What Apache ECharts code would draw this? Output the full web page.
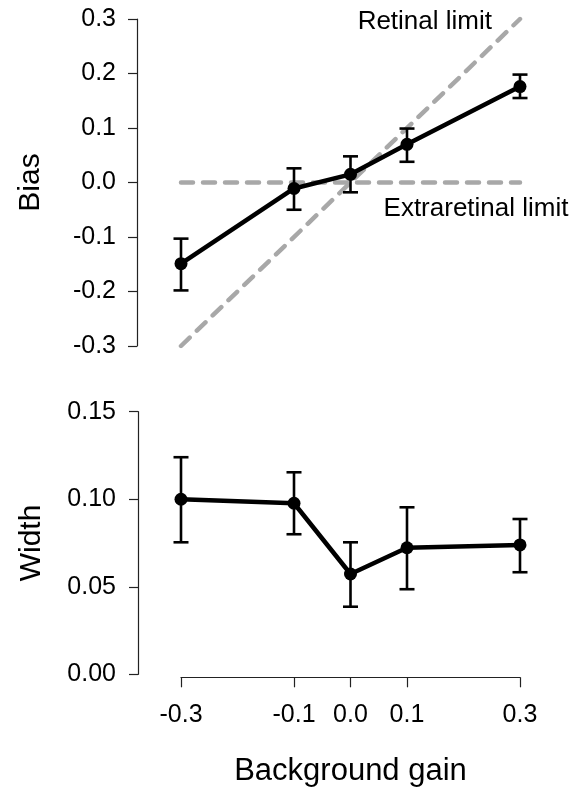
<!DOCTYPE html>
<html>
<head>
<meta charset="utf-8">
<script src="https://cdn.jsdelivr.net/npm/echarts@6/dist/echarts.min.js"></script>
<style>
html,body{margin:0;padding:0;background:#fff;}
#chart{width:576px;height:792px;}
</style>
</head>
<body>
<div id="chart"></div>
<script>
// ---- data ----
var gainValues = [-0.3, -0.1, 0.0, 0.1, 0.3];
var gainTicks = [-0.3, -0.1, 0.0, 0.1, 0.3];
var biasMean = [-0.149, -0.011, 0.015, 0.070, 0.176];
var biasLow  = [-0.198, -0.050, -0.018, 0.038, 0.155];
var biasHigh = [-0.103, 0.026, 0.048, 0.099, 0.198];
var widthMean = [0.100, 0.0977, 0.0573, 0.0723, 0.0739];
var widthLow  = [0.0754, 0.080, 0.0386, 0.0486, 0.0583];
var widthHigh = [0.124, 0.1154, 0.0754, 0.0954, 0.0887];
var retinalLimit = [[-0.3, -0.3], [0.3, 0.3]];
var extraretinalLimit = [[-0.3, 0.0], [0.3, 0.0]];
var biasTicks = [-0.3, -0.2, -0.1, 0.0, 0.1, 0.2, 0.3];
var widthTicks = [0.00, 0.05, 0.10, 0.15];

var FONT = 'Liberation Sans';
var chart = echarts.init(document.getElementById('chart'), null, {renderer: 'canvas'});

function zip(xs, ys) { return xs.map(function (x, i) { return [x, ys[i]]; }); }
function errData(xs, lo, hi) { return xs.map(function (x, i) { return [x, lo[i], hi[i]]; }); }

function errRender(params, api) {
  var x = api.value(0);
  var p1 = api.coord([x, api.value(1)]);
  var p2 = api.coord([x, api.value(2)]);
  var hw = 7.5;
  var st = {stroke: '#000', lineWidth: 2.6};
  return {
    type: 'group',
    children: [
      {type: 'line', shape: {x1: p1[0], y1: p1[1], x2: p2[0], y2: p2[1]}, style: st},
      {type: 'line', shape: {x1: p1[0] - hw, y1: p1[1], x2: p1[0] + hw, y2: p1[1]}, style: st},
      {type: 'line', shape: {x1: p2[0] - hw, y1: p2[1], x2: p2[0] + hw, y2: p2[1]}, style: st}
    ]
  };
}

var axisLineStyle = {color: '#222', width: 1.2};
var dashStyle = {color: '#a8a8a8', width: 4.5, type: [12, 10], cap: 'round'};

var option = {
  backgroundColor: '#fff',
  animation: false,
  textStyle: {fontFamily: FONT},
  grid: [
    {left: 181, right: 56, top: 19, height: 327},
    {left: 181, right: 56, top: 411.7, height: 262.6}
  ],
  xAxis: [
    {gridIndex: 0, type: 'value', min: -0.3, max: 0.3, show: false},
    {gridIndex: 1, type: 'value', min: -0.3, max: 0.3, offset: 3,
     axisLine: {show: true, onZero: false, lineStyle: axisLineStyle},
     axisTick: {show: true, length: 10, lineStyle: axisLineStyle, customValues: gainTicks},
     axisLabel: {show: true, customValues: gainTicks, margin: 25, fontSize: 25, color: '#000', fontFamily: FONT,
       formatter: function (v) { return v.toFixed(1); }},
     splitLine: {show: false},
     name: 'Background gain', nameLocation: 'middle', nameGap: 79,
     nameTextStyle: {fontSize: 31, color: '#000', fontFamily: FONT}}
  ],
  yAxis: [
    {gridIndex: 0, type: 'value', min: -0.3, max: 0.3, interval: 0.1, offset: 44,
     axisLine: {show: true, onZero: false, lineStyle: axisLineStyle},
     axisTick: {show: true, length: 9, lineStyle: axisLineStyle, customValues: biasTicks},
     axisLabel: {show: true, customValues: biasTicks, margin: 21, fontSize: 25, color: '#000', fontFamily: FONT,
       formatter: function (v) { return v.toFixed(1); }},
     splitLine: {show: false},
     name: 'Bias', nameLocation: 'middle', nameGap: 91,
     nameTextStyle: {fontSize: 30, color: '#000', fontFamily: FONT}},
    {gridIndex: 1, type: 'value', min: 0, max: 0.15, interval: 0.05, offset: 43,
     axisLine: {show: true, onZero: false, lineStyle: axisLineStyle},
     axisTick: {show: true, length: 9, lineStyle: axisLineStyle, customValues: widthTicks},
     axisLabel: {show: true, customValues: widthTicks, margin: 22, fontSize: 25, color: '#000', fontFamily: FONT,
       formatter: function (v) { return v.toFixed(2); }},
     splitLine: {show: false},
     name: 'Width', nameLocation: 'middle', nameGap: 91,
     nameTextStyle: {fontSize: 30, color: '#000', fontFamily: FONT}}
  ],
  series: [
    {type: 'line', xAxisIndex: 0, yAxisIndex: 0, z: 1,
     data: [retinalLimit[0], {value: retinalLimit[1],
       label: {show: true, formatter: 'Retinal limit', position: 'inside', align: 'right', verticalAlign: 'middle',
               offset: [-28, 3], fontSize: 26, color: '#000', fontFamily: FONT}}],
     symbol: 'circle', symbolSize: 0.1, itemStyle: {color: '#a8a8a8'},
     lineStyle: dashStyle, silent: true},
    {type: 'line', xAxisIndex: 0, yAxisIndex: 0, z: 1,
     data: [extraretinalLimit[0], {value: extraretinalLimit[1],
       label: {show: true, formatter: 'Extraretinal limit', position: 'inside', align: 'center', verticalAlign: 'middle',
               offset: [-44, 26], fontSize: 26, color: '#000', fontFamily: FONT}}],
     symbol: 'circle', symbolSize: 0.1, itemStyle: {color: '#a8a8a8'},
     lineStyle: dashStyle, silent: true},
    {type: 'custom', xAxisIndex: 0, yAxisIndex: 0, z: 2, renderItem: errRender,
     data: errData(gainValues, biasLow, biasHigh)},
    {type: 'line', xAxisIndex: 0, yAxisIndex: 0, z: 3, data: zip(gainValues, biasMean),
     symbol: 'circle', symbolSize: 13, itemStyle: {color: '#000'},
     lineStyle: {color: '#000', width: 4.5}},
    {type: 'custom', xAxisIndex: 1, yAxisIndex: 1, z: 2, renderItem: errRender,
     data: errData(gainValues, widthLow, widthHigh)},
    {type: 'line', xAxisIndex: 1, yAxisIndex: 1, z: 3, data: zip(gainValues, widthMean),
     symbol: 'circle', symbolSize: 13, itemStyle: {color: '#000'},
     lineStyle: {color: '#000', width: 4.5}}
  ]
};
chart.setOption(option);
</script>
</body>
</html>
